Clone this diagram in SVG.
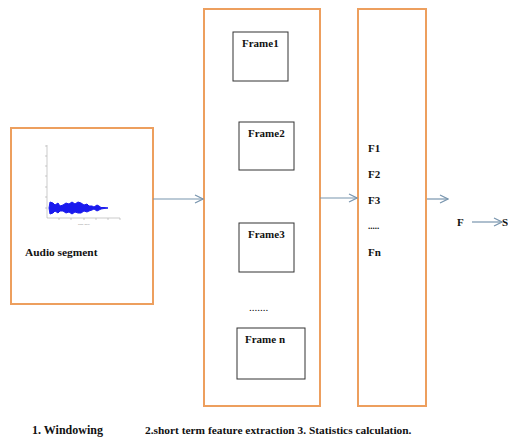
<svg xmlns="http://www.w3.org/2000/svg" width="508" height="441" viewBox="0 0 508 441">
<defs>
<style>
.ob{fill:#fff;stroke:#ed9f5e;stroke-width:2}
.fb{fill:#fff;stroke:#333;stroke-width:1}
.t{font-family:"Liberation Serif",serif;font-weight:bold;font-size:11px;fill:#111}
.c{stroke:#7895ae;stroke-width:1.2;fill:none}
.ax{stroke:#aaa;stroke-width:0.6;fill:none}
.tk{font-family:"Liberation Sans",sans-serif;font-size:2.5px;fill:#888}
</style>
<marker id="ah" markerWidth="10" markerHeight="10" refX="9" refY="5" orient="auto" markerUnits="userSpaceOnUse">
<path d="M1,1 L9,5 L1,9" fill="none" stroke="#7895ae" stroke-width="1.2"/>
</marker>
</defs>
<rect width="508" height="441" fill="#fff"/>
<g id="audio">
<rect class="ob" x="11" y="128" width="142" height="176"/>
<path class="ax" d="M47,145 V218 H120"/>
<path class="ax" d="M45,146 H47 M45,156 H47 M45,166 H47 M45,176 H47 M45,187 H47 M45,197 H47 M45,208 H47 M59,218 V220 M71,218 V220 M84,218 V220 M96,218 V220 M108,218 V220 M120,218 V220"/>
<path d="M49,208 L50,202 L53,203 L55,205 L58,203 L60,206 L63,205 L66,203 L69,204 L72,202 L75,204 L78,202 L81,203 L84,205 L87,204 L89,206 L92,206 L94,207 L97,205 L99,206 L101,207.5 L104,207.5 L108,208 L104,208.5 L101,209 L99,210 L97,211 L94,209 L92,210 L89,211 L87,212 L84,211 L81,213 L78,213 L75,212 L72,214 L69,212 L66,213 L63,211 L60,211 L58,213 L55,211 L53,213 L50,214 Z" fill="#1a1aee" stroke="#1a1aee" stroke-width="1" stroke-linejoin="round"/>
<text class="tk" x="78" y="225">Time (sec)</text>
<text class="t" x="25" y="256" style="font-size:11.4px">Audio segment</text>
</g>
<g id="frames">
<rect class="ob" x="204" y="9" width="116" height="397"/>
<g id="frame1"><rect class="fb" x="233" y="32" width="55" height="49"/><text class="t" x="242" y="47">Frame1</text></g>
<g id="frame2"><rect class="fb" x="239" y="122" width="55" height="48"/><text class="t" x="248" y="137">Frame2</text></g>
<g id="frame3"><rect class="fb" x="239" y="223" width="55" height="49"/><text class="t" x="248" y="238">Frame3</text></g>
<text class="t" x="249" y="311" style="font-weight:normal">.......</text>
<g id="framen"><rect class="fb" x="237" y="328" width="68" height="51"/><text class="t" x="245" y="343">Frame n</text></g>
</g>
<g id="features">
<rect class="ob" x="358" y="9" width="68" height="397"/>
<text class="t" x="368" y="152">F1</text>
<text class="t" x="368" y="178">F2</text>
<text class="t" x="368" y="204">F3</text>
<text class="t" x="368" y="229" style="font-size:9px">.....</text>
<text class="t" x="368" y="256">Fn</text>
</g>
<g id="stats">
<text class="t" x="457" y="226">F</text>
<text class="t" x="502" y="226">S</text>
</g>
<g id="connectors">
<line class="c" x1="153" y1="199" x2="203" y2="199" marker-end="url(#ah)"/>
<line class="c" x1="320" y1="198" x2="357" y2="198" marker-end="url(#ah)"/>
<line class="c" x1="427" y1="199" x2="448" y2="199" marker-end="url(#ah)"/>
<line class="c" x1="472" y1="222" x2="502" y2="222" marker-end="url(#ah)"/>
</g>
<g id="caption">
<text class="t" x="32" y="434" style="font-size:12px">1.  Windowing</text>
<text class="t" x="145" y="434" style="font-size:11.4px">2.short term feature extraction 3. Statistics calculation.</text>
</g>
</svg>
